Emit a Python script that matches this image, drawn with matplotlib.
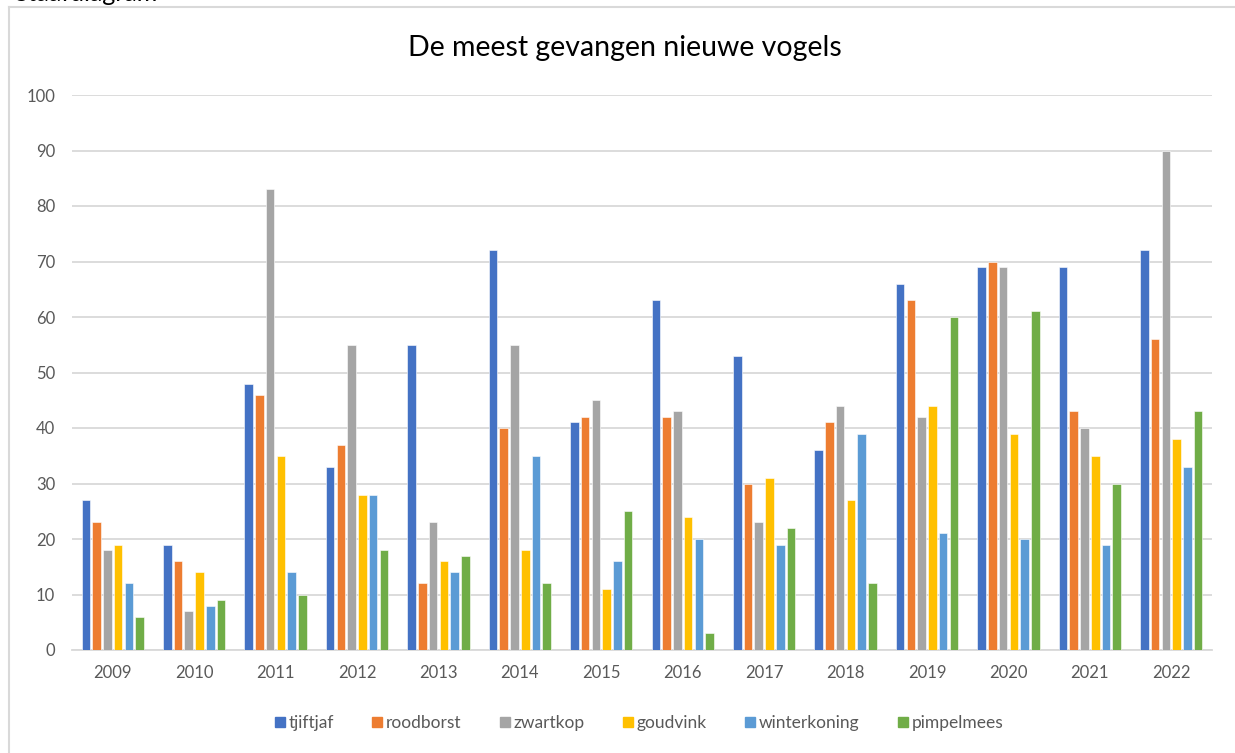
import matplotlib
matplotlib.use("Agg")
import matplotlib.pyplot as plt
import numpy as np
from matplotlib.lines import Line2D

years = ["2009", "2010", "2011", "2012", "2013", "2014", "2015",
         "2016", "2017", "2018", "2019", "2020", "2021", "2022"]
series_names = ["tjiftjaf", "roodborst", "zwartkop", "goudvink", "winterkoning", "pimpelmees"]
tjiftjaf     = [27, 19, 48, 33, 55, 72, 41, 63, 53, 36, 66, 69, 69, 72]
roodborst    = [23, 16, 46, 37, 12, 40, 42, 42, 30, 41, 63, 70, 43, 56]
zwartkop     = [18, 7, 83, 55, 23, 55, 45, 43, 23, 44, 42, 69, 40, 90]
goudvink     = [19, 14, 35, 28, 16, 18, 11, 24, 31, 27, 44, 39, 35, 38]
winterkoning = [12, 8, 14, 28, 14, 35, 16, 20, 19, 39, 21, 20, 19, 33]
pimpelmees   = [6, 9, 10, 18, 17, 12, 25, 3, 22, 12, 60, 61, 30, 43]
colors = ["#4472C4", "#ED7D31", "#A5A5A5", "#FFC000", "#5B9BD5", "#70AD47"]
values = [tjiftjaf, roodborst, zwartkop, goudvink, winterkoning, pimpelmees]

plt.rcParams['font.family'] = ['Lato', 'DejaVu Sans']

W, H = 1235, 753
fig = plt.figure(figsize=(W / 100, H / 100), dpi=100)
ax = fig.add_axes([72 / W, 1 - 650 / H, (1212 - 72) / W, (650 - 95) / H])

x = np.arange(len(years))
n = len(values)
slot = 0.79 / n
bw = slot * 0.8
for i, (name, vals, c) in enumerate(zip(series_names, values, colors)):
    ax.bar(x + (i - (n - 1) / 2) * slot, vals, width=bw, color=c,
           edgecolor="white", linewidth=0.4, label=name, zorder=3)

ax.set_xlim(-0.5, len(years) - 0.5)
ax.set_ylim(0, 100)
ax.set_yticks(np.arange(0, 101, 10))
ax.set_xticks(x)
ax.set_xticklabels(years)
ax.yaxis.grid(True, color="#D9D9D9", linewidth=1.3, zorder=0)
ax.set_axisbelow(True)
for s in ["top", "right", "left"]:
    ax.spines[s].set_visible(False)
ax.spines["bottom"].set_color("#D9D9D9")
ax.spines["bottom"].set_linewidth(1.3)
ax.tick_params(axis="both", length=0, labelsize=12, labelcolor="#595959")
ax.tick_params(axis="x", pad=11)
ax.tick_params(axis="y", pad=12)

fig.text(625 / W, 1 - 48 / H, "De meest gevangen nieuwe vogels",
         ha="center", va="center", fontsize=20.5, color="#000000")

# partially visible heading above the chart (cut off by the image edge, as in the reference)
fig.text(14 / W, 1 - 1 / H, "Staafdiagram", ha="left", va="baseline",
         fontsize=18, color="#000000")

handles = [Line2D([0], [0], marker="s", linestyle="none", markersize=7,
                  markerfacecolor=c, markeredgecolor=c) for c in colors]
fig.legend(handles, series_names, loc="center", bbox_to_anchor=(638 / W, 1 - 723 / H),
           ncol=6, frameon=False, fontsize=12.5, labelcolor="#595959",
           handletextpad=0.1, columnspacing=2.1, handlelength=0.8)

# outer chart border (top and left visible)
fig.add_artist(Line2D([9 / W, 1.0], [1 - 7 / H, 1 - 7 / H], color="#D9D9D9", linewidth=1.5,
                      transform=fig.transFigure))
fig.add_artist(Line2D([9 / W, 9 / W], [0, 1 - 7 / H], color="#D9D9D9", linewidth=1.5,
                      transform=fig.transFigure))

fig.savefig("out.png", dpi=100)
